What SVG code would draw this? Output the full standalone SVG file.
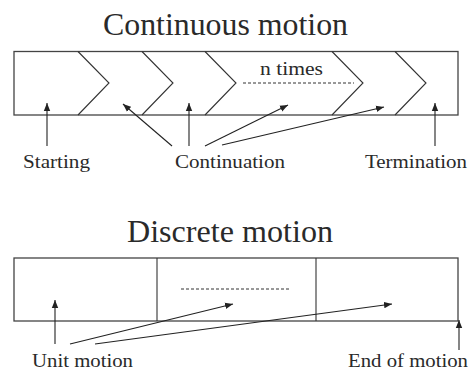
<svg xmlns="http://www.w3.org/2000/svg" width="470" height="371" viewBox="0 0 470 371">
<style>
.box{fill:none;stroke:#444;stroke-width:1.3}
.ln{fill:none;stroke:#333;stroke-width:1.1}
.dash{fill:none;stroke:#333;stroke-width:1;stroke-dasharray:3 2}
.ar{fill:none;stroke:#222;stroke-width:1.1;marker-end:url(#ah)}
.t{font-family:"Liberation Serif","DejaVu Serif",serif;fill:#2a2a2a}
.title{font-size:31px}
.lab{font-size:18px}
</style>
<defs>
<marker id="ah" viewBox="0 0 10 10" refX="10" refY="5" markerWidth="8" markerHeight="8" markerUnits="userSpaceOnUse" orient="auto">
<path d="M0,1 L10,5 L0,9 Z" fill="#222"/>
</marker>
</defs>
<rect width="470" height="371" fill="#fff"/>
<g id="continuous">
<text class="t title" x="103" y="35" textLength="245" lengthAdjust="spacingAndGlyphs">Continuous motion</text>
<rect class="box" x="14" y="51.5" width="444" height="63.5"/>
<polyline class="ln" points="78,51.5 109,83 78,115"/>
<polyline class="ln" points="142,51.5 173,83 142,115"/>
<polyline class="ln" points="205,51.5 236,83 205,115"/>
<polyline class="ln" points="332,51.5 363,83 332,115"/>
<polyline class="ln" points="395,51.5 426,83 395,115"/>
<text class="t lab" x="260" y="75" textLength="63" lengthAdjust="spacingAndGlyphs">n times</text>
<line class="dash" x1="243" y1="83" x2="354" y2="83"/>
</g>
<g id="discrete">
<text class="t title" x="127" y="242" textLength="206" lengthAdjust="spacingAndGlyphs">Discrete motion</text>
<rect class="box" x="14" y="258" width="444" height="63"/>
<line class="ln" x1="157" y1="258" x2="157" y2="321"/>
<line class="ln" x1="316" y1="258" x2="316" y2="321"/>
<line class="dash" x1="181" y1="289" x2="290" y2="289"/>
</g>
<g id="labels">
<text class="t lab" x="23" y="168" textLength="67" lengthAdjust="spacingAndGlyphs">Starting</text>
<text class="t lab" x="175" y="168" textLength="110" lengthAdjust="spacingAndGlyphs">Continuation</text>
<text class="t lab" x="365" y="168" textLength="102" lengthAdjust="spacingAndGlyphs">Termination</text>
<text class="t lab" x="32" y="367" textLength="101" lengthAdjust="spacingAndGlyphs">Unit motion</text>
<text class="t lab" x="348" y="367" textLength="120" lengthAdjust="spacingAndGlyphs">End of motion</text>
</g>
<g id="connectors">
<line class="ar" x1="47" y1="146" x2="47" y2="103"/>
<line class="ar" x1="172" y1="146" x2="123" y2="104"/>
<line class="ar" x1="189" y1="146" x2="189" y2="103"/>
<line class="ar" x1="205" y1="146" x2="288" y2="105"/>
<line class="ar" x1="222" y1="145" x2="384" y2="107"/>
<line class="ar" x1="435" y1="146" x2="435" y2="103"/>
<line class="ar" x1="55" y1="344" x2="55" y2="300"/>
<line class="ar" x1="70" y1="344" x2="233" y2="304"/>
<line class="ar" x1="95" y1="344" x2="392" y2="304"/>
<line class="ar" x1="459" y1="350" x2="459" y2="320"/>
</g>
</svg>
